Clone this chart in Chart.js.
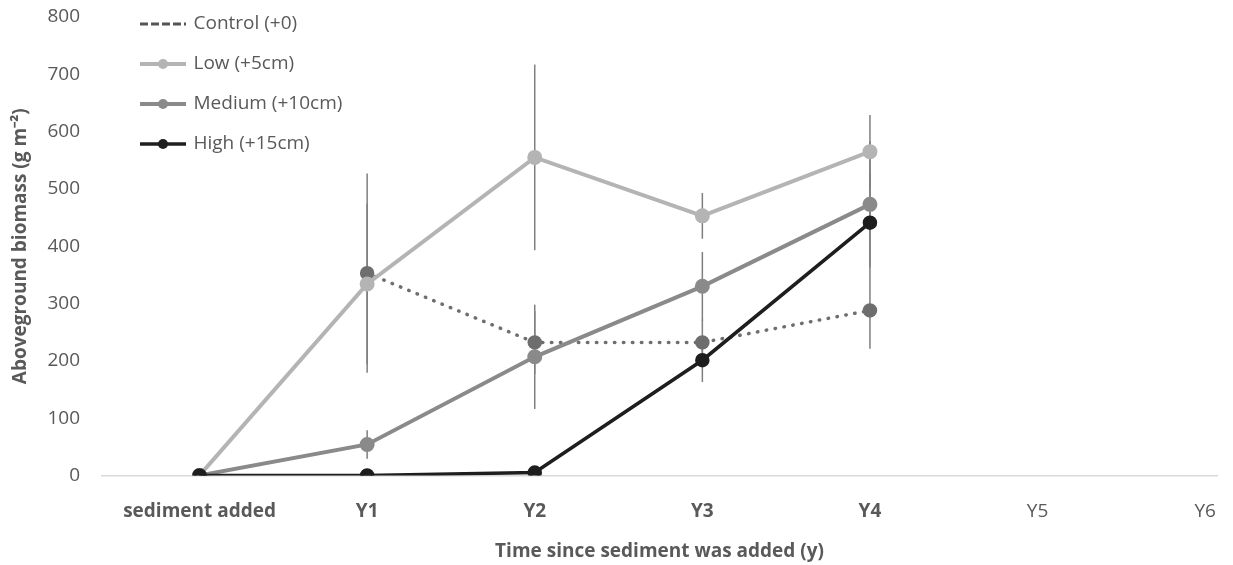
<!DOCTYPE html>
<html>
<head>
<meta charset="utf-8">
<script src="https://cdn.jsdelivr.net/npm/chart.js@4"></script>
<style>
  body { margin: 0; background: #fff; }
  #wrap { width: 1233px; height: 565px; position: relative; }
</style>
</head>
<body>
<div id="wrap"><canvas id="myChart"></canvas></div>
<script>
// data
const categories = ['sediment added', 'Y1', 'Y2', 'Y3', 'Y4', 'Y5', 'Y6'];
const control = [null, 353, 232, 232, 288];
const low = [0, 334, 555, 453, 565];
const medium = [0, 54, 207, 330, 473];
const high = [0, 0, 5, 201, 441];
// error bar half-lengths
const controlErr = [0, 174, 55, 40, 67];
const lowErr = [0, 140, 162, 40, 64];
const mediumErr = [0, 25, 91, 60, 110];
const highErr = [0, 0, 0, 38, 86];

const FONT = "'Open Sans', 'Liberation Sans', sans-serif";
const GREY_TEXT = '#595959';

function pts(arr) {
  return arr.map((v, i) => ({ x: i, y: v }));
}

// little legend sample: line with a dot in the middle
function swatch(color, width, dash, dot) {
  const c = document.createElement('canvas');
  c.width = 46; c.height = 14;
  const g = c.getContext('2d');
  g.strokeStyle = color;
  g.lineWidth = width;
  g.setLineDash(dash);
  g.beginPath(); g.moveTo(0, 7); g.lineTo(46, 7); g.stroke();
  if (dot) {
    g.fillStyle = color;
    g.beginPath(); g.arc(23, 7, 5, 0, Math.PI * 2); g.fill();
  }
  return c;
}

const errorBars = {
  id: 'errorBars',
  beforeDatasetsDraw(chart) {
    const { ctx, scales: { x, y } } = chart;
    ctx.save();
    ctx.strokeStyle = '#7f7f7f';
    ctx.lineWidth = 1.5;
    chart.data.datasets.forEach(ds => {
      ds.data.forEach((p, i) => {
        const e = ds.errors[i];
        if (p.y == null || !e) return;
        const px = x.getPixelForValue(p.x);
        ctx.beginPath();
        ctx.moveTo(px, y.getPixelForValue(p.y - e));
        ctx.lineTo(px, y.getPixelForValue(p.y + e));
        ctx.stroke();
      });
    });
    ctx.restore();
  }
};

// vertical legend gets top = 0, so pull it to where the figure has it
const legendNudge = {
  id: 'legendNudge',
  afterLayout(chart) {
    const l = chart.legend;
    l.top -= 6.5; l.bottom -= 6.5;
    l.left += 19; l.right += 19;
  }
};

// order: later series sit on top, like the original
const datasets = [
  {
    label: 'Control (+0)', data: pts(control), errors: controlErr, order: 3,
    borderColor: '#6e6e6e', backgroundColor: '#6e6e6e', borderWidth: 3.5,
    borderDash: [0.5, 8.5], borderCapStyle: 'round', swatch: swatch('#555555', 3, [8, 3], false)
  },
  {
    label: 'Low (+5cm)', data: pts(low), errors: lowErr, order: 2,
    borderColor: '#b4b4b4', backgroundColor: '#b4b4b4', borderWidth: 4,
    swatch: swatch('#b4b4b4', 4, [], true)
  },
  {
    label: 'Medium (+10cm)', data: pts(medium), errors: mediumErr, order: 1,
    borderColor: '#8a8a8a', backgroundColor: '#8a8a8a', borderWidth: 4,
    swatch: swatch('#8a8a8a', 4, [], true)
  },
  {
    label: 'High (+15cm)', data: pts(high), errors: highErr, order: 0,
    borderColor: '#1e1e1e', backgroundColor: '#1e1e1e', borderWidth: 3.5,
    swatch: swatch('#1e1e1e', 3.5, [], true)
  }
];

var ctx = document.getElementById('myChart');
var myChart = new Chart(ctx, {
  type: 'line',
  data: { datasets: datasets },
  options: {
    responsive: true,
    maintainAspectRatio: false,
    animation: false,
    layout: { padding: { top: 17, right: 0, left: 0, bottom: 2 } },
    elements: {
      point: { radius: 5.5, hoverRadius: 5.5, borderWidth: 0 },
      line: { tension: 0 }
    },
    plugins: {
      tooltip: { enabled: false },
      legend: {
        position: 'chartArea',
        align: 'start',
        labels: {
          usePointStyle: true,
          pointStyleWidth: 42,
          padding: 21,
          color: GREY_TEXT,
          font: { family: FONT, size: 19 },
          generateLabels(chart) {
            return chart.data.datasets.map((ds, i) => ({
              text: ds.label,
              pointStyle: ds.swatch,
              fillStyle: ds.borderColor,
              strokeStyle: ds.borderColor,
              lineWidth: 0,
              fontColor: GREY_TEXT,
              datasetIndex: i
            }));
          }
        }
      }
    },
    scales: {
      x: {
        type: 'linear',
        min: -0.582,
        max: 6.071,
        afterBuildTicks(scale) {
          scale.ticks = categories.map((c, i) => ({ value: i }));
        },
        ticks: {
          padding: 17,
          color: GREY_TEXT,
          autoSkip: false,
          maxRotation: 0,
          font: (c) => ({ family: FONT, size: 19, weight: low[c.index] !== undefined ? 'bold' : 'normal' }),
          callback: (v) => categories[v]
        },
        grid: { display: false },
        border: { display: true, color: '#d9d9d9', width: 1.5 },
        title: {
          display: true,
          text: 'Time since sediment was added (y)',
          color: GREY_TEXT,
          font: { family: FONT, size: 19, weight: 'bold' },
          padding: { top: 0, bottom: 0 }
        }
      },
      y: {
        min: 0,
        max: 800,
        afterFit(scale) {
          scale.width = 102;
          scale.paddingTop = 0;
        },
        ticks: {
          stepSize: 100,
          padding: 14,
          color: GREY_TEXT,
          font: { family: FONT, size: 19 }
        },
        grid: { display: false },
        border: { display: false },
        title: {
          display: true,
          text: 'Aboveground biomass (g m⁻²)',
          color: GREY_TEXT,
          font: { family: FONT, size: 19, weight: 'bold' },
          padding: { top: 9, bottom: 0 }
        }
      }
    }
  },
  plugins: [errorBars, legendNudge]
});
</script>
</body>
</html>
